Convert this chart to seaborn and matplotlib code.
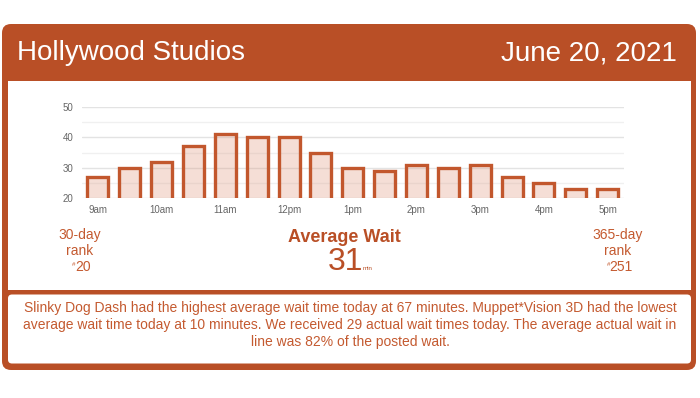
import matplotlib
matplotlib.use("Agg")
import matplotlib.pyplot as plt
from matplotlib.patches import FancyBboxPatch, Rectangle
import seaborn as sns
import pandas as pd

# data
hours = ["9am", "9:30", "10am", "10:30", "11am", "11:30", "12pm", "12:30", "1pm",
         "1:30", "2pm", "2:30", "3pm", "3:30", "4pm", "4:30", "5pm"]
waits = [27, 30, 32, 37, 41, 40, 40, 35, 30, 29, 31, 30, 31, 27, 25, 23, 23]
tick_labels = ["9am", "10am", "11am", "12pm", "1pm", "2pm", "3pm", "4pm", "5pm"]
park = "Hollywood Studios"
date = "June 20, 2021"
avg_wait = 31
rank_30 = 20
rank_365 = 251
summary = ("Slinky Dog Dash had the highest average wait time today at 67 minutes. Muppet*Vision 3D had the lowest\n"
           "average wait time today at 10 minutes. We received 29 actual wait times today. The average actual wait in\n"
           "line was 82% of the posted wait.")

ORANGE = "#B94F26"
TEXT = "#C45A30"

sns.set_style("white")
plt.rcParams["font.family"] = ["Liberation Sans", "DejaVu Sans"]

W, H = 700, 398
fig = plt.figure(figsize=(7, 3.98), dpi=100)

# background axes in pixel coordinates
bg = fig.add_axes([0, 0, 1, 1])
bg.set_xlim(0, W)
bg.set_ylim(H, 0)
bg.axis("off")

bg.add_patch(FancyBboxPatch((2, 24), 694, 346, boxstyle="round,pad=0,rounding_size=9",
                            fc=ORANGE, ec="none"))
bg.add_patch(Rectangle((8, 80.5), 683, 209, fc="white", ec="none"))
bg.add_patch(FancyBboxPatch((8, 294.5), 683, 69, boxstyle="round,pad=0,rounding_size=4",
                            fc="white", ec="none"))

bg.text(17, 53, park, color="white", fontsize=20, va="center", ha="left")
bg.text(677, 53, date, color="white", fontsize=20, va="center", ha="right")

for x, top, num in [(80, "30-day", rank_30), (618, "365-day", rank_365)]:
    bg.text(x, 235, top, color=TEXT, fontsize=10, ha="center", va="center")
    bg.text(x, 251, "rank", color=TEXT, fontsize=10, ha="center", va="center")
    bg.text(x + 3, 267, str(num), color=TEXT, fontsize=10, ha="center", va="center")
    bg.text(x + 3 - len(str(num)) * 3.1 - 1.5, 265, "#", color=TEXT, fontsize=4.5,
            ha="right", va="center")

bg.text(344, 238, "Average Wait", color=ORANGE, fontsize=13, fontweight="bold",
        ha="center", va="center")
bg.text(346, 262, str(avg_wait), color=ORANGE, fontsize=23, ha="center", va="center")
bg.text(363, 269, "min", color=ORANGE, fontsize=4.5, ha="left", va="center")

bg.text(350, 325, summary, color=TEXT, fontsize=10, ha="center", va="center",
        linespacing=1.3)

# bar chart
ax = fig.add_axes([82 / W, 1 - 198 / H, (623.5 - 82) / W, (198 - 107) / H])
df = pd.DataFrame({"hour": hours, "wait": waits})
sns.barplot(data=df, x="hour", y="wait", ax=ax, width=0.66,
            color=ORANGE, edgecolor="#C2572D", linewidth=2.4, saturation=1)
for p in ax.patches:
    p.set_facecolor((0.87, 0.58, 0.48, 0.3))
ax.set_ylim(20, 50)
ax.set_xlim(-0.5, len(hours) - 0.5)
ax.set_yticks([20, 30, 40, 50])
ax.set_yticks([25, 35, 45], minor=True)
ax.set_xticks(range(0, len(hours), 2))
ax.set_xticklabels(tick_labels)
ax.grid(axis="y", which="major", color="#e3e3e3", lw=1)
ax.grid(axis="y", which="minor", color="#f0f0f0", lw=1)
ax.set_axisbelow(True)
ax.tick_params(axis="both", which="both", length=0, labelsize=7, labelcolor="#666666")
ax.tick_params(axis="y", pad=6)
ax.tick_params(axis="x", pad=5)
ax.set_xlabel("")
ax.set_ylabel("")
for s in ax.spines.values():
    s.set_visible(False)
ax.patch.set_alpha(0)

fig.savefig("out.png", dpi=100)
